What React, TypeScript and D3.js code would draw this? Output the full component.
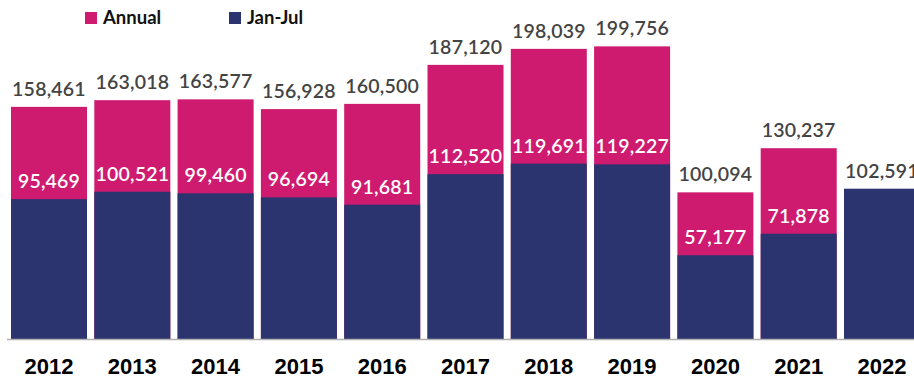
import React from "react";
import * as d3 from "d3";

const years = ["2012", "2013", "2014", "2015", "2016", "2017", "2018", "2019", "2020", "2021", "2022"];
const annual: (number | null)[] = [158461, 163018, 163577, 156928, 160500, 187120, 198039, 199756, 100094, 130237, null];
const janJul = [95469, 100521, 99460, 96694, 91681, 112520, 119691, 119227, 57177, 71878, 102591];
const seriesNames = ["Annual", "Jan-Jul"];

const W = 914;
const H = 380;
const PINK = "#CE1A6F";
const NAVY = "#2B346F";
const LABEL = "#444444";
const fmt = d3.format(",");

export default function App() {
  const x = d3.scaleBand<string>().domain(years).range([11, 920]).paddingInner(0.0876).paddingOuter(0);
  const y = d3.scaleLinear().domain([0, 200000]).range([339, 46]);
  const bw = x.bandwidth();
  const font = "Lato, 'Open Sans', sans-serif";

  return (
    <svg width={W} height={H} style={{ position: "absolute", left: 0, top: 0, background: "#fff" }}>
      {/* legend */}
      <g fontFamily={font} fontSize={18.5} fontWeight={700} fill="#111">
        <rect x={85} y={12} width={12} height={12} fill={PINK} />
        <text x={103} y={23.5}>{seriesNames[0]}</text>
        <rect x={229} y={12} width={12} height={12} fill={NAVY} />
        <text x={247} y={23.5}>{seriesNames[1]}</text>
      </g>
      {/* annual bars */}
      {years.map((yr, i) =>
        annual[i] != null ? (
          <rect key={"a" + yr} x={x(yr)} y={y(annual[i] as number)} width={bw} height={y(0) - y(annual[i] as number)} fill={PINK} />
        ) : null
      )}
      {/* jan-jul bars */}
      {years.map((yr, i) => (
        <rect key={"j" + yr} x={x(yr)} y={y(janJul[i])} width={bw} height={y(0) - y(janJul[i])} fill={NAVY} />
      ))}
      {/* axis line */}
      <line x1={7} x2={W} y1={339.5} y2={339.5} stroke="#b0b0b0" strokeWidth={1.5} />
      {/* annual labels */}
      <g fontFamily={font} fontSize={19.5} fontWeight={600} textAnchor="middle" letterSpacing={0.2}>
        {years.map((yr, i) =>
          annual[i] != null ? (
            <text key={"al" + yr} x={(x(yr) as number) + bw / 2} y={y(annual[i] as number) - 11} fill={LABEL}>
              {fmt(annual[i] as number)}
            </text>
          ) : null
        )}
        {years.map((yr, i) => (
          <text
            key={"jl" + yr}
            x={(x(yr) as number) + bw / 2}
            y={y(janJul[i]) - 11}
            fill={annual[i] != null ? "#ffffff" : LABEL}
          >
            {fmt(janJul[i])}
          </text>
        ))}
      </g>
      {/* year labels */}
      <g fontFamily="'Liberation Sans', Arial, sans-serif" fontSize={22} fontWeight={700} textAnchor="middle" fill="#000">
        {years.map((yr) => (
          <text key={"y" + yr} x={(x(yr) as number) + bw / 2} y={374}>
            {yr}
          </text>
        ))}
      </g>
    </svg>
  );
}
